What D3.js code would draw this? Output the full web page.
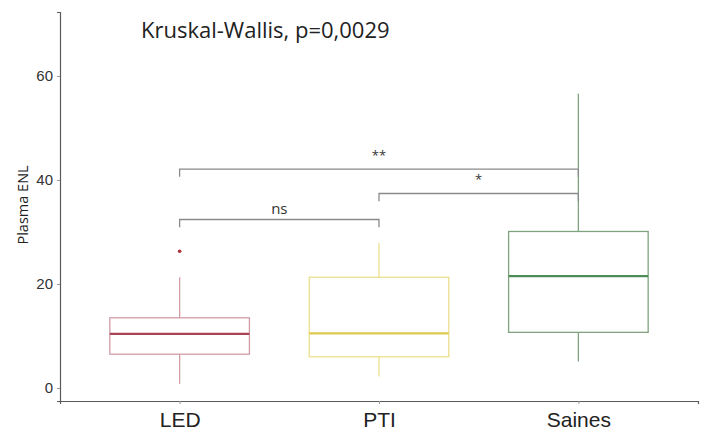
<!DOCTYPE html>
<html>
<head>
<meta charset="utf-8">
<script src="https://cdn.jsdelivr.net/npm/d3@7"></script>
<style>
  html, body { margin: 0; padding: 0; background: #fff; }
  svg { display: block; font-family: "Open Sans", "DejaVu Sans", sans-serif; }
</style>
</head>
<body>
<svg id="chart" width="704" height="438"></svg>
<script>
// Plasma ENL per group: box-plot summary statistics
const categories   = ["LED", "PTI", "Saines"];
const whiskerLow   = [0.8, 2.2, 5.1];
const q1           = [6.5, 6.0, 10.7];
const median       = [10.4, 10.5, 21.5];
const q3           = [13.5, 21.3, 30.1];
const whiskerHigh  = [21.3, 27.9, 56.6];
const outliers     = [[26.3], [], []];

// Pairwise comparisons drawn as brackets
const bracketFrom  = ["LED", "PTI", "LED"];
const bracketTo    = ["PTI", "Saines", "Saines"];
const bracketY     = [32.4, 37.4, 42.1];
const bracketLabel = ["ns", "*", "**"];

const yTicks = [0, 20, 40, 60];
const testLabel = "Kruskal-Wallis, p=0,0029";

const boxStroke   = ["#d29ca5", "#ece08e", "#7fa27f"];
const medianColor = ["#a84456", "#e2c84e", "#4c8c56"];
const outlierColor = "#b0303e";

const svg = d3.select("#chart");
const margin = { left: 60, right: 6, top: 12, bottom: 37 };
const W = 704, H = 438;

const x = d3.scalePoint()
  .domain(categories)
  .range([margin.left, W - margin.right])
  .padding(0.6);

const y = d3.scaleLinear()
  .domain([-2.5, 72.3])
  .range([H - margin.bottom, margin.top]);

const halfW = x.step() * 0.35;

// Axes
const yAxis = svg.append("g")
  .attr("transform", `translate(${margin.left},0)`)
  .call(d3.axisLeft(y).tickValues(yTicks).tickSize(3).tickPadding(4));
const xAxis = svg.append("g")
  .attr("transform", `translate(0,${H - margin.bottom})`)
  .call(d3.axisBottom(x).tickSize(3).tickPadding(8));

[yAxis, xAxis].forEach(g => {
  g.select(".domain").attr("stroke", "#5a5a5a").attr("stroke-width", 1.2);
  g.selectAll(".tick line").attr("stroke", "#999");
});
yAxis.selectAll(".tick text")
  .attr("fill", "#333").style("font-size", "15px");
xAxis.selectAll(".tick text")
  .attr("fill", "#222").style("font-size", "21px");

// Axis title
svg.append("text")
  .attr("transform", `translate(22,${y(35.2)}) rotate(-90)`)
  .attr("text-anchor", "middle")
  .attr("dominant-baseline", "central")
  .attr("fill", "#222")
  .style("font-size", "14.5px")
  .text("Plasma ENL");

// Boxes
const groups = svg.append("g").selectAll("g")
  .data(categories.map((c, i) => ({ c, i })))
  .join("g");

groups.append("line")
  .attr("x1", d => x(d.c)).attr("x2", d => x(d.c))
  .attr("y1", d => y(q3[d.i])).attr("y2", d => y(whiskerHigh[d.i]))
  .attr("stroke", d => boxStroke[d.i]).attr("stroke-width", 1.3);
groups.append("line")
  .attr("x1", d => x(d.c)).attr("x2", d => x(d.c))
  .attr("y1", d => y(q1[d.i])).attr("y2", d => y(whiskerLow[d.i]))
  .attr("stroke", d => boxStroke[d.i]).attr("stroke-width", 1.3);
groups.append("rect")
  .attr("x", d => x(d.c) - halfW)
  .attr("width", halfW * 2)
  .attr("y", d => y(q3[d.i]))
  .attr("height", d => y(q1[d.i]) - y(q3[d.i]))
  .attr("fill", "none")
  .attr("stroke", d => boxStroke[d.i]).attr("stroke-width", 1.3);
groups.append("line")
  .attr("x1", d => x(d.c) - halfW).attr("x2", d => x(d.c) + halfW)
  .attr("y1", d => y(median[d.i])).attr("y2", d => y(median[d.i]))
  .attr("stroke", d => medianColor[d.i]).attr("stroke-width", 2.2);
groups.selectAll("circle")
  .data(d => outliers[d.i].map(v => ({ c: d.c, v })))
  .join("circle")
  .attr("cx", d => x(d.c)).attr("cy", d => y(d.v))
  .attr("r", 1.8).attr("fill", outlierColor);

// Significance brackets
const tip = 1.5;
const br = svg.append("g").selectAll("g")
  .data(bracketY.map((v, i) => ({ v, i })))
  .join("g");
br.append("path")
  .attr("d", d => {
    const x0 = x(bracketFrom[d.i]), x1 = x(bracketTo[d.i]);
    return `M${x0},${y(d.v - tip)}V${y(d.v)}H${x1}V${y(d.v - tip)}`;
  })
  .attr("fill", "none").attr("stroke", "#8a8a8a").attr("stroke-width", 1.3);
br.append("text")
  .attr("x", d => (x(bracketFrom[d.i]) + x(bracketTo[d.i])) / 2)
  .attr("y", d => y(d.v) - (bracketLabel[d.i] === "ns" ? 6 : 9))
  .attr("text-anchor", "middle")
  .attr("fill", "#333")
  .style("font-size", d => bracketLabel[d.i] === "ns" ? "15px" : "13px")
  .text(d => bracketLabel[d.i]);

// Global test label
svg.append("text")
  .attr("x", 141).attr("y", 38)
  .attr("fill", "#222")
  .style("font-size", "22px")
  .text(testLabel);
</script>
</body>
</html>
